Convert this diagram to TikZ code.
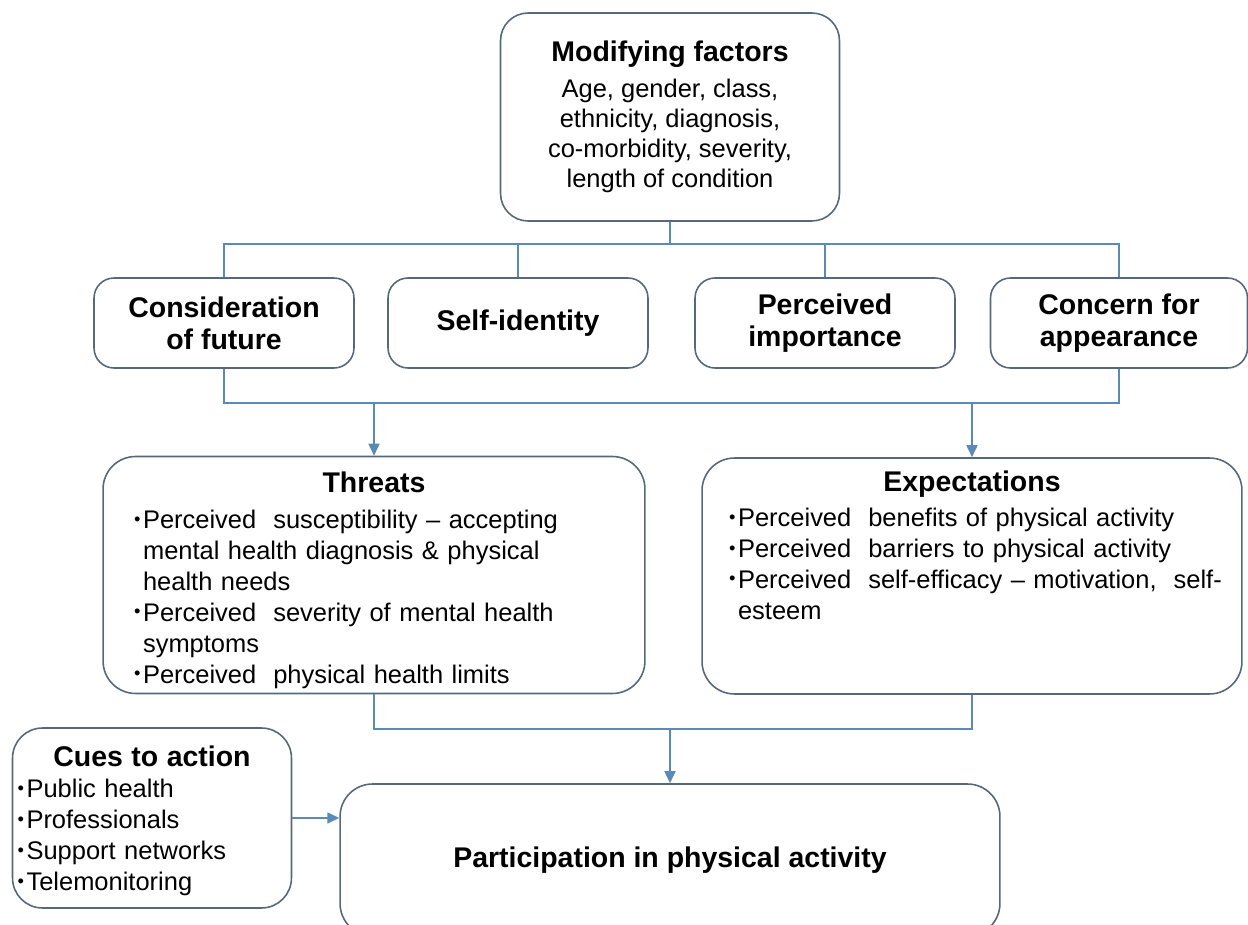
\documentclass[tikz,border=0pt]{standalone}
\usepackage{fontspec}
\setmainfont{Liberation Sans}
\usetikzlibrary{arrows.meta}
\definecolor{boxline}{HTML}{56687A}
\definecolor{connline}{HTML}{5A8AB5}
\newcommand{\ttl}{\fontsize{16.2}{18.2}\selectfont\bfseries}
\newcommand{\bdy}{\fontsize{14.5}{17.6}\selectfont}
\newcommand{\bul}{\makebox[0.18cm][l]{\raisebox{0.25ex}{\scalebox{0.72}{\textbullet}}}}
\newcommand{\ind}{\hspace*{0.18cm}}
\setlength{\parindent}{0pt}

\begin{document}
\begin{tikzpicture}[x=0.02cm, y=-0.02cm, >={Triangle[length=0.24cm,width=0.22cm]},
  box/.style={draw=boxline, line width=0.9pt, fill=white, rounded corners=0.65cm, inner sep=0pt},
  factor/.style={box, rounded corners=0.4cm, minimum width=5.2cm, minimum height=1.8cm, align=center, font=\ttl},
  conn/.style={connline, line width=0.9pt}]
  \useasboundingbox (0,0) rectangle (1248,925);
  \clip (0,0) rectangle (1248,925);

  \node[box, minimum width=6.78cm, minimum height=4.16cm, rounded corners=0.55cm, align=center, font=\fontsize{14.5}{17.1}\selectfont] (mod) at (670,117)
    {{\ttl Modifying factors}\\[3.5pt] Age, gender, class,\\ ethnicity, diagnosis,\\ co-morbidity, severity,\\ length of condition};

  \node[factor] (cons) at (224,323) {Consideration\\of future};
  \node[factor] (self) at (518,323) {Self-identity};
  \node[factor] (imp) at (825,323) {Perceived\\importance};
  \node[factor, minimum width=5.14cm] (app) at (1119,323) {Concern for\\appearance};

  \node[box, minimum width=10.84cm, minimum height=4.74cm, text width=9.6cm, align=left, font=\bdy] (threats) at (374,575)
    {{\centering\ttl\rule{0pt}{17.5pt}Threats\par}\vspace{2.9pt}
     \bul Perceived\ \ susceptibility -- accepting\\
     \ind mental health diagnosis \& physical\\
     \ind health needs\\
     \bul Perceived\ \ severity of mental health\\
     \ind symptoms\\
     \bul Perceived\ \ physical health limits};

  \node[box, minimum width=10.8cm, minimum height=4.72cm, text width=9.72cm, align=left, font=\bdy] (expect) at (972,576)
    {{\centering\ttl Expectations\par}\vspace{2.3pt}
     \bul Perceived\ \ benefits of physical activity\\
     \bul Perceived\ \ barriers to physical activity\\
     \mbox{\bul Perceived\ \ self-efficacy -- motivation,\ \ self-}\\
     \ind esteem\\ \mbox{}\\ \mbox{}};

  \node[box, minimum width=5.58cm, minimum height=3.6cm, rounded corners=0.6cm, text width=5.38cm, align=left, font=\bdy] (cues) at (152,818)
    {{\centering\ttl\rule{0pt}{15.2pt}Cues to action\par}
     \bul Public health\\
     \bul Professionals\\
     \bul Support networks\\
     \bul Telemonitoring};

  \node[box, minimum width=13.2cm, minimum height=3.04cm, font=\ttl] (part) at (670,860) {Participation in physical activity};

  \coordinate (top) at (670,244);
  \coordinate (mid) at (670,403);
  \coordinate (low) at (670,729);

  \draw[conn] (mod.south) -- (top);
  \draw[conn] (cons.north) |- (top) -| (app.north);
  \draw[conn] (self.north) -- (self.north |- top);
  \draw[conn] (imp.north) -- (imp.north |- top);
  \draw[conn] (cons.south) |- (mid) -| (app.south);
  \draw[conn, ->] (threats.north |- mid) -- (threats.north);
  \draw[conn, ->] (expect.north |- mid) -- (expect.north);
  \draw[conn] (threats.south) |- (low) -| (expect.south);
  \draw[conn, ->] (low) -- (part.north);
  \draw[conn, ->] (cues.east) -- (cues.east -| part.west);
\end{tikzpicture}
\end{document}
